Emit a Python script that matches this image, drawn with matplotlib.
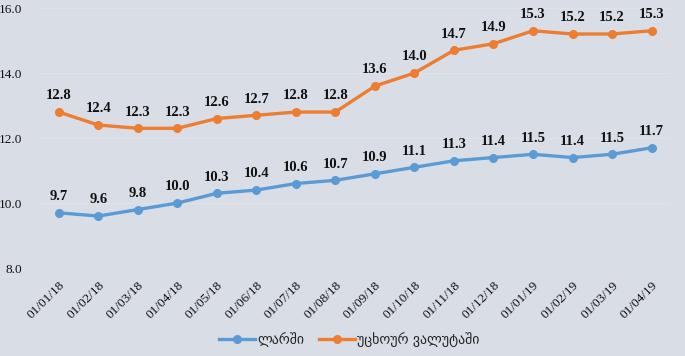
import matplotlib
matplotlib.use("Agg")
import matplotlib.pyplot as plt

dates = ["01/01/18", "01/02/18", "01/03/18", "01/04/18", "01/05/18", "01/06/18",
         "01/07/18", "01/08/18", "01/09/18", "01/10/18", "01/11/18", "01/12/18",
         "01/01/19", "01/02/19", "01/03/19", "01/04/19"]
lari = [9.7, 9.6, 9.8, 10.0, 10.3, 10.4, 10.6, 10.7, 10.9, 11.1, 11.3, 11.4, 11.5, 11.4, 11.5, 11.7]
foreign = [12.8, 12.4, 12.3, 12.3, 12.6, 12.7, 12.8, 12.8, 13.6, 14.0, 14.7, 14.9, 15.3, 15.2, 15.2, 15.3]
series_names = ["ლარში", "უცხოურ ვალუტაში"]
yticks = [8.0, 10.0, 12.0, 14.0, 16.0]

bg = "#d9dee6"
fig = plt.figure(figsize=(6.85, 3.56), dpi=100, facecolor=bg)
ax = fig.add_axes([0.057, 0.247, 0.923, 0.7305], facecolor=bg)

x = list(range(len(dates)))
colors = ["#5b9bd5", "#ed7d31"]
for vals, c, name in zip([lari, foreign], colors, series_names):
    ax.plot(x, vals, color=c, lw=2.4, marker="o", ms=5.5, label=name, zorder=3)
    for xi, v in zip(x, vals):
        ax.annotate(f"{v:.1f}", (xi, v), xytext=(0, 7), textcoords="offset points",
                    ha="center", va="bottom", fontsize=10.5, fontweight="bold",
                    family="Liberation Serif", color="#111111")

ax.set_xlim(-0.5, len(dates) - 0.5)
ax.set_ylim(8, 16)
ax.set_yticks(yticks)
ax.set_yticklabels([f"{t:.1f}" for t in yticks], family="Liberation Serif", fontsize=9.5, color="#111111")
ax.set_xticks(x)
ax.set_xticklabels(dates, rotation=45, ha="right", va="top", rotation_mode="anchor",
                   family="Liberation Serif", fontsize=9.5, color="#111111")
ax.tick_params(axis="y", length=0, pad=12)
ax.tick_params(axis="x", length=0, pad=8)
ax.grid(axis="y", color="#dee2e9", lw=0.8, zorder=0)
for s in ax.spines.values():
    s.set_visible(False)

leg = fig.legend(loc="center", bbox_to_anchor=(0.51, 0.046), ncol=2, frameon=False,
                 prop={"family": "DejaVu Sans", "size": 10}, handlelength=2.6,
                 columnspacing=1.0, handletextpad=0.2)
for t in leg.get_texts():
    t.set_color("#222222")

fig.savefig("out.png", dpi=100, facecolor=bg)
